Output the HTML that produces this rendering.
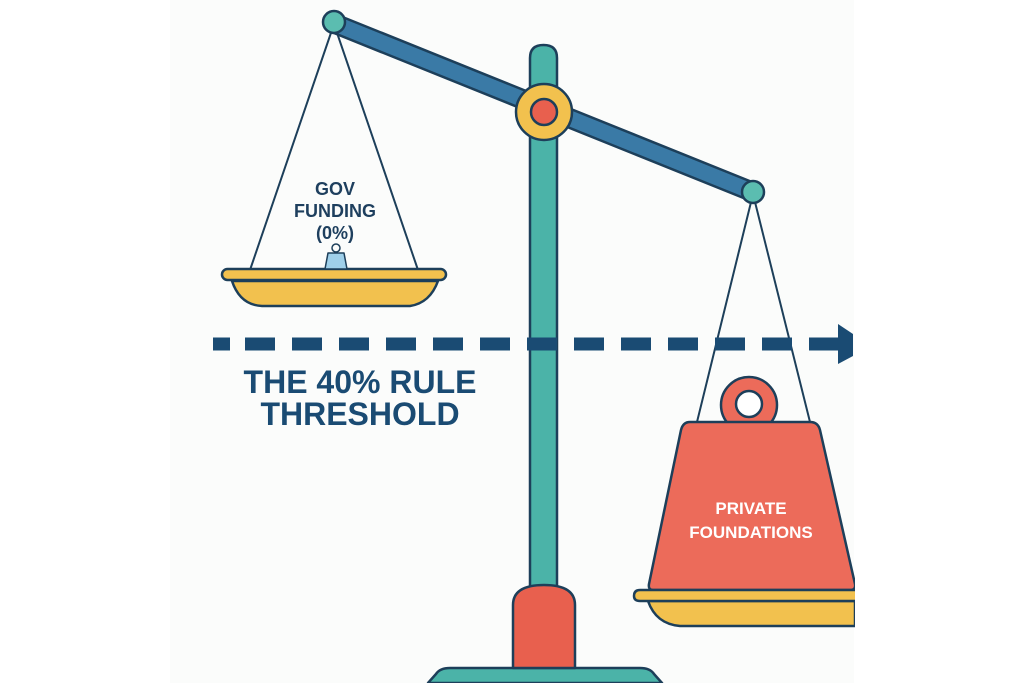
<!DOCTYPE html>
<html><head><meta charset="utf-8"><style>html,body{margin:0;padding:0;background:#fff}svg{display:block}</style></head>
<body>
<svg width="1024" height="683" viewBox="0 0 1024 683" xmlns="http://www.w3.org/2000/svg" font-family="Liberation Sans, sans-serif" font-weight="bold">
<rect x="170" y="0" width="684" height="683" fill="#fbfcfb"/>
<g stroke="#1d3f5a" stroke-width="2.5" stroke-linejoin="round">
<path d="M428 683 L436 674 Q440 668 450 668 L640 668 Q650 668 654 674 L662 683 Z" fill="#4bb3a8"/>
<path d="M530 590 L530 58 Q530 45 543.5 45 Q557 45 557 58 L557 590 Z" fill="#4bb3a8"/>
<path d="M513 668 L513 605 Q513 585 544 585 Q575 585 575 605 L575 668 Z" fill="#e8604e"/>
<path d="M335 14 L757 184 L751 201 L329 31 Z" fill="#3a7aa6"/>
<path d="M334 24 L250 270 M334 24 L418 270 M753 194 L697 422 M753 194 L810 422" fill="none" stroke-width="2"/>
<circle cx="334" cy="22" r="11" fill="#5bbdb0"/>
<circle cx="753" cy="192" r="11" fill="#5bbdb0"/>
<circle cx="544" cy="112" r="28" fill="#f2c14e"/>
<circle cx="544" cy="112" r="13" fill="#e8604e"/>
<path d="M232 281 Q240 305 262 306 L410 306 Q430 303 438 281 Z" fill="#f2c14e"/>
<rect x="222" y="269" width="224" height="11" rx="5.5" fill="#f2c14e"/>
<path d="M325 269 L328 253 L344 253 L347 269 Z" fill="#9fd0ea" stroke-width="1.5"/>
<circle cx="336" cy="248" r="4" fill="none" stroke-width="1.5"/>
<circle cx="749" cy="405" r="28" fill="#ec6b5a"/>
<circle cx="749" cy="404" r="13" fill="#fff"/>
<path d="M690 422 L810 422 Q818 422 820 430 L855 584 Q856 590 850 590 L653 590 Q648 590 649 584 L681 430 Q683 422 690 422 Z" fill="#ec6b5a"/>
<path d="M648 601 Q656 624 680 626 L855 626 L855 601 Z" fill="#f2c14e"/>
<path d="M855 590 L640 590 Q634 590 634 596 Q634 601 640 601 L855 601" fill="#f2c14e"/>
</g>
<line x1="213" y1="344" x2="838" y2="344" stroke="#1a4b73" stroke-width="13" stroke-dasharray="17 15 30 17 30 17 30 17 30 17 30 17 30 17 30 17 30 17 30 17 30 17 30 17 30 17 30 17 30 17"/>
<path d="M838 324 L853 334 L853 356 L838 364 Z" fill="#1a4b73"/>
<g fill="#1e3f5e" text-anchor="middle">
<text x="335" y="195" font-size="18">GOV</text>
<text x="335" y="217" font-size="18">FUNDING</text>
<text x="335" y="239" font-size="18">(0%)</text>
<text x="360" y="393" font-size="32" fill="#1a4b73">THE 40% RULE</text>
<text x="360" y="425" font-size="32" fill="#1a4b73">THRESHOLD</text>
</g>
<g fill="#fff" text-anchor="middle" font-size="17">
<text x="751" y="514">PRIVATE</text>
<text x="751" y="538">FOUNDATIONS</text>
</g>
<rect x="855" y="0" width="169" height="683" fill="#fff"/>
</svg>
</body></html>
